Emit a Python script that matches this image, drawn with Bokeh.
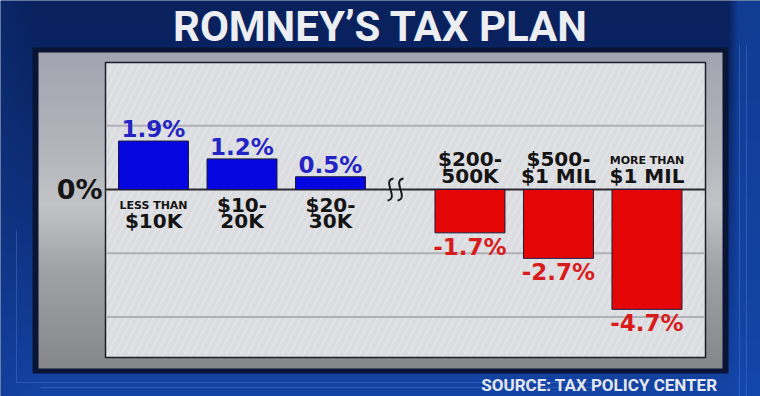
import numpy as np
from bokeh.plotting import figure
from bokeh.models import ColumnDataSource, Range1d
from bokeh.core.properties import value
from bokeh.embed import file_html
from bokeh.resources import INLINE

# ---------------- data ----------------
categories = ["LESS THAN $10K", "$10-20K", "$20-30K", "$200-500K", "$500-$1 MIL", "MORE THAN $1 MIL"]
label_line1 = ["LESS THAN", "$10-", "$20-", "$200-", "$500-", "MORE THAN"]
label_line2 = ["$10K", "20K", "30K", "500K", "$1 MIL", "$1 MIL"]
changes = [1.9, 1.2, 0.5, -1.7, -2.7, -4.7]
value_labels = ["1.9%", "1.2%", "0.5%", "-1.7%", "-2.7%", "-4.7%"]
grid_values = [2.5, -2.5, -5.0]
zero_label = "0%"
title_text = "ROMNEY\u2019S TAX PLAN"
source_text = "SOURCE: TAX POLICY CENTER"

# ---------------- layout helpers (page pixels -> data) ----------------
W, H = 760, 396
SX, SY = 88.5, 25.5          # px per category step, px per percent
X0PX, Y0PX = 153.0, 189.0    # page px of first bar centre, zero line


def X(px):
    return (px - X0PX) / SX


def Y(py):
    return (Y0PX - py) / SY


GAP = 0.576
xpos = [i + (GAP if i >= 3 else 0.0) for i in range(len(changes))]

BOLD = value("DejaVu Sans")
COND = value("Roboto")

p = figure(width=W, height=H, x_range=Range1d(X(0), X(W)), y_range=Range1d(Y(H), Y(0)),
           output_backend="svg", toolbar_location=None, min_border=0,
           x_axis_location=None, y_axis_location=None)
p.grid.visible = False
p.outline_line_color = None
p.background_fill_color = "#0b2a6a"
p.border_fill_color = "#0b2a6a"


def hexrgb(h):
    h = h.lstrip("#")
    return np.array([int(h[i:i + 2], 16) for i in (0, 2, 4)], dtype=float)


def pack(rgb):
    hh, ww, _ = rgb.shape
    img = np.empty((hh, ww), dtype=np.uint32)
    v = img.view(dtype=np.uint8).reshape((hh, ww, 4))
    v[..., :3] = np.clip(rgb, 0, 255).astype(np.uint8)
    v[..., 3] = 255
    return img


# ---- blue background gradient ----
hh, ww = 198, 380
rows = H - (np.arange(hh) + 0.5) * 2.0     # page y of each row (row 0 at bottom)
cols = (np.arange(ww) + 0.5) * 2.0
PY, PX = np.meshgrid(rows, cols, indexing="ij")
top_c, bot_c = hexrgb("#09215c"), hexrgb("#1444a6")
t = np.clip(PY / 396.0, 0, 1) ** 1.3
bg = top_c[None, None, :] * (1 - t[..., None]) + bot_c[None, None, :] * t[..., None]
edge = np.clip((PX - 728) / 10.0, 0, 1)[..., None]
bg = bg * (1 - 0.7 * edge) + hexrgb("#1448ac")[None, None, :] * 0.7 * edge
left = np.clip((40 - PX) / 40.0, 0, 1)[..., None]
bg = bg * (1 - 0.3 * left) + hexrgb("#12378a")[None, None, :] * 0.3 * left
p.image_rgba(image=[pack(bg)], x=X(0), y=Y(H), dw=W / SX, dh=H / SY)

# faint decorative lines
p.segment(x0=[X(16), X(16), X(40), X(739), X(746)], y0=[Y(230), Y(382), Y(387), Y(45), Y(45)],
          x1=[X(16), X(600), X(600), X(739), X(746)], y1=[Y(382), Y(382), Y(387), Y(396), Y(396)],
          line_color="#4a78d8", line_alpha=0.45, line_width=1)

# ---- dark frame and grey panel ----
p.quad(left=X(32), right=X(728), top=Y(47), bottom=Y(373), fill_color="#0a1434", line_color=None)
gy = np.arange(52, 368) + 0.5
stops_y = [52, 150, 205, 270, 368]
stops_c = [hexrgb(c) for c in ["#a2a5b0", "#b3b5bb", "#c3c4c7", "#a0a2a6", "#85878b"]]
panel = np.stack([np.interp(gy, stops_y, [c[k] for c in stops_c]) for k in range(3)], axis=-1)
panel = panel[::-1][:, None, :]
p.image_rgba(image=[pack(panel)], x=X(38), y=Y(368), dw=(722 - 38) / SX, dh=(368 - 52) / SY)

# ---- chart area ----
p.quad(left=X(105), right=X(705), top=Y(62), bottom=Y(357), fill_color="#dcdde1",
       line_color="#1e1e2a", line_width=1.5,
       hatch_pattern="right_diagonal_line", hatch_color="#ffffff", hatch_alpha=0.18,
       hatch_scale=14, hatch_weight=2)

grid_src = ColumnDataSource(dict(y=grid_values))
p.segment(x0=X(106), x1=X(704), y0="y", y1="y", source=grid_src, line_color="#b0b1b6", line_width=2)

# zero line
p.segment(x0=[X(105)], x1=[X(705)], y0=[0], y1=[0], line_color="#2a2a32", line_width=2)
p.text(x=[X(102)], y=[0], text=[zero_label], text_font=BOLD, text_font_style="bold",
       text_font_size="27px", text_color="#151515", text_align="right", text_baseline="middle")

# axis break squiggle
sq = [390.0, 400.0]
p.bezier(x0=[X(c + 3) for c in sq], y0=[Y(178)] * 2, x1=[X(c - 3) for c in sq], y1=[Y(200)] * 2,
         cx0=[X(c - 9) for c in sq], cy0=[Y(180)] * 2, cx1=[X(c + 9) for c in sq], cy1=[Y(198)] * 2,
         line_color="#1a1a1a", line_width=2)

# ---- bars ----
pos = [v >= 0 for v in changes]
bar_src = ColumnDataSource(dict(
    x=xpos, v=changes, label=value_labels, cat=categories,
    l1=label_line1, l2=label_line2,
    color=["#0606e0" if s else "#e40606" for s in pos],
    tcolor=["#2424c4" if s else "#d81c1c" for s in pos],
    voff=[-12 if s else 14 for s in pos],
    l1size=["11px" if "THAN" in a else "20px" for a in label_line1],
    l1off=[(16 if "THAN" in a else 15) if s else (-29 if "THAN" in a else -31) for a, s in zip(label_line1, pos)],
    l2off=[31 if s else -14 for s in pos],
))
p.vbar(x="x", top="v", bottom=0, width=70 / SX, source=bar_src, fill_color="color",
       line_color="#1c1c3a", line_width=1)

p.text(x="x", y="v", text="label", source=bar_src, text_font=BOLD, text_font_style="bold",
       text_font_size="23px", text_color="tcolor", text_align="center", text_baseline="middle",
       y_offset="voff")

p.text(x="x", y=0, text="l1", source=bar_src, text_font=BOLD, text_font_style="bold",
       text_font_size="l1size", text_color="#141414", text_align="center", text_baseline="middle",
       y_offset="l1off")
p.text(x="x", y=0, text="l2", source=bar_src, text_font=BOLD, text_font_style="bold",
       text_font_size="20px", text_color="#141414", text_align="center", text_baseline="middle",
       y_offset="l2off")

# ---- title and source ----
p.text(x=[X(380)], y=[Y(26)], text=[title_text], text_font=COND, text_font_style="bold",
       text_font_size="42px", text_color="#eceef2", text_align="center", text_baseline="middle")
p.text(x=[X(717)], y=[Y(384.5)], text=[source_text], text_font=COND, text_font_style="bold",
       text_font_size="17px", text_color="#e4e8f0", text_align="right", text_baseline="middle")

html = file_html(p, INLINE, title="Romney's Tax Plan")
open("out.html", "w").write(html)
